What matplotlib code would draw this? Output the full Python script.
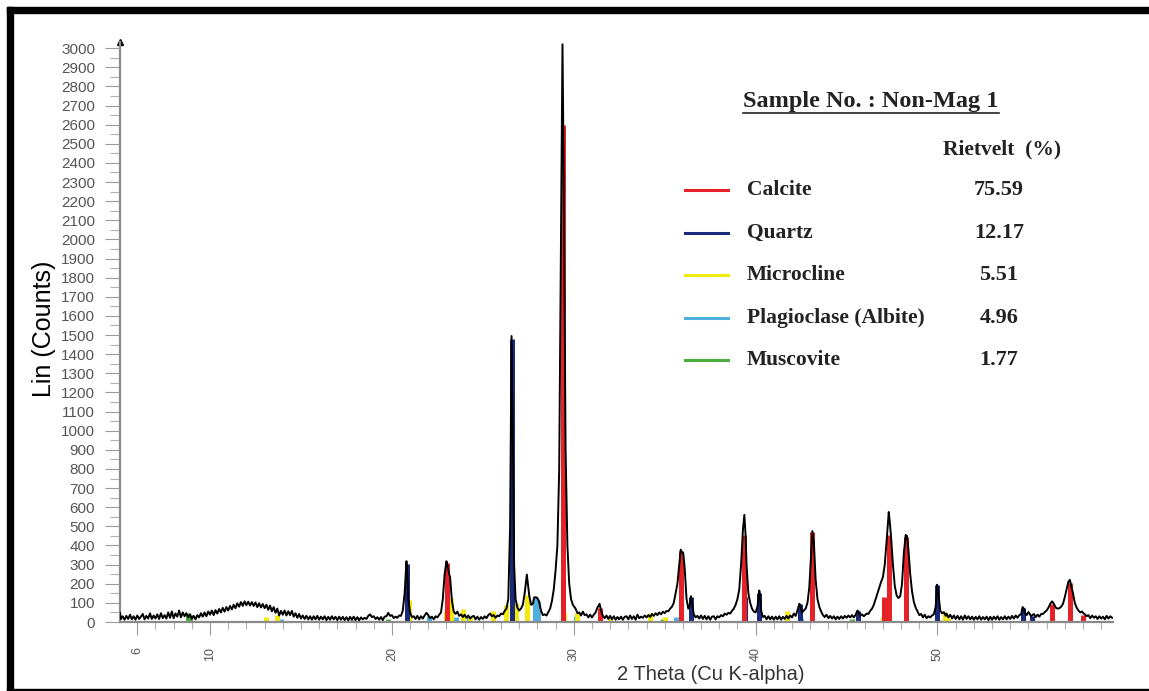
import matplotlib
matplotlib.use("Agg")
import matplotlib.pyplot as plt
from matplotlib.lines import Line2D
from matplotlib.patches import Rectangle
from matplotlib.ticker import MultipleLocator, FixedLocator

# measured pattern: (2theta, counts)
trace = [
    (5.05, 48), (5.1, 15), (5.2, 30), (5.3, 12), (5.4, 32), (5.5, 16), (5.6, 38), (5.7, 14),
    (5.8, 30), (5.9, 12), (6.0, 34), (6.1, 16), (6.2, 28), (6.3, 42), (6.4, 14), (6.5, 32),
    (6.6, 18), (6.7, 45), (6.8, 16), (6.9, 34), (7.0, 18), (7.1, 40), (7.2, 16), (7.3, 46),
    (7.4, 20), (7.5, 36), (7.6, 18), (7.7, 50), (7.8, 22), (7.9, 55), (8.0, 20), (8.1, 45),
    (8.2, 28), (8.3, 60), (8.4, 24), (8.5, 50), (8.6, 30), (8.7, 46), (8.8, 24), (8.9, 40),
    (9.0, 16), (9.1, 32), (9.2, 14), (9.3, 36), (9.4, 24), (9.5, 46), (9.6, 28), (9.7, 50),
    (9.8, 30), (9.9, 55), (10.0, 38), (10.1, 60), (10.2, 36), (10.3, 62), (10.4, 44),
    (10.5, 68), (10.6, 50), (10.7, 74), (10.8, 54), (10.9, 78), (11.0, 60), (11.1, 84),
    (11.2, 66), (11.3, 90), (11.4, 72), (11.5, 98), (11.6, 80), (11.7, 104), (11.8, 84),
    (11.9, 108), (12.0, 88), (12.1, 106), (12.2, 86), (12.3, 104), (12.4, 84), (12.5, 102),
    (12.6, 78), (12.7, 98), (12.8, 76), (12.9, 94), (13.0, 72), (13.1, 90), (13.2, 64),
    (13.3, 86), (13.4, 56), (13.5, 78), (13.6, 48), (13.7, 70), (13.8, 34), (13.9, 58),
    (14.0, 38), (14.1, 60), (14.2, 34), (14.3, 56), (14.4, 36), (14.5, 58), (14.6, 28),
    (14.7, 46), (14.8, 22), (14.9, 42), (15.0, 18), (15.1, 34), (15.2, 16), (15.3, 32),
    (15.4, 14), (15.5, 30), (15.6, 12), (15.7, 30), (15.8, 14), (15.9, 32), (16.0, 12),
    (16.1, 28), (16.2, 14), (16.3, 30), (16.4, 10), (16.5, 27), (16.6, 12), (16.7, 30),
    (16.8, 14), (16.9, 27), (17.0, 10), (17.1, 28), (17.2, 12), (17.3, 27), (17.4, 10),
    (17.5, 25), (17.6, 9), (17.7, 27), (17.8, 12), (17.9, 28), (18.0, 10), (18.1, 25),
    (18.2, 9), (18.3, 24), (18.4, 14), (18.5, 22), (18.6, 16), (18.7, 32), (18.8, 40),
    (18.9, 26), (19.0, 30), (19.1, 16), (19.2, 25), (19.3, 12), (19.4, 26), (19.5, 10),
    (19.6, 28), (19.7, 30), (19.8, 48), (19.9, 32), (20.0, 36), (20.1, 20), (20.2, 28),
    (20.3, 22), (20.4, 34), (20.5, 32), (20.6, 60), (20.7, 150), (20.8, 318), (20.85, 250),
    (20.9, 120), (21.0, 50), (21.1, 26), (21.2, 30), (21.3, 16), (21.4, 32), (21.5, 14),
    (21.6, 30), (21.7, 18), (21.8, 34), (21.9, 48), (22.0, 36), (22.1, 20), (22.2, 28),
    (22.3, 14), (22.4, 30), (22.5, 24), (22.6, 38), (22.7, 50), (22.8, 120), (22.9, 250),
    (23.0, 318), (23.05, 300), (23.15, 250), (23.2, 235), (23.3, 110), (23.4, 55),
    (23.5, 42), (23.6, 54), (23.7, 32), (23.8, 40), (23.9, 26), (24.0, 38), (24.1, 22),
    (24.2, 34), (24.3, 18), (24.4, 28), (24.5, 32), (24.6, 14), (24.7, 28), (24.8, 12),
    (24.9, 26), (25.0, 16), (25.1, 30), (25.2, 20), (25.3, 36), (25.4, 44), (25.5, 30),
    (25.6, 36), (25.7, 22), (25.8, 34), (25.9, 30), (26.0, 44), (26.1, 40), (26.2, 58),
    (26.3, 70), (26.4, 120), (26.5, 500), (26.58, 1495), (26.66, 900), (26.72, 300),
    (26.8, 120), (26.9, 75), (27.0, 60), (27.1, 70), (27.2, 90), (27.3, 150), (27.42, 248),
    (27.48, 200), (27.55, 140), (27.65, 90), (27.75, 95), (27.82, 128), (27.9, 130),
    (28.0, 125), (28.08, 110), (28.2, 60), (28.3, 36), (28.4, 40), (28.5, 34), (28.6, 52),
    (28.7, 70), (28.8, 110), (28.9, 170), (29.0, 270), (29.1, 400), (29.2, 800),
    (29.3, 2000), (29.38, 3020), (29.45, 2300), (29.55, 900), (29.65, 400), (29.75, 200),
    (29.85, 120), (29.95, 90), (30.1, 70), (30.2, 46), (30.3, 50), (30.4, 34), (30.5, 54),
    (30.6, 36), (30.7, 40), (30.8, 24), (30.9, 38), (31.0, 24), (31.1, 38), (31.2, 50),
    (31.3, 75), (31.42, 95), (31.5, 60), (31.6, 32), (31.7, 20), (31.8, 34), (31.9, 16),
    (32.0, 32), (32.1, 14), (32.2, 30), (32.3, 12), (32.4, 26), (32.5, 14), (32.6, 28),
    (32.7, 12), (32.8, 27), (32.9, 30), (33.0, 14), (33.1, 34), (33.2, 16), (33.3, 30),
    (33.4, 12), (33.5, 38), (33.6, 20), (33.7, 28), (33.8, 22), (33.9, 34), (34.0, 24),
    (34.1, 36), (34.2, 26), (34.3, 42), (34.4, 32), (34.5, 46), (34.6, 36), (34.7, 50),
    (34.8, 40), (34.9, 54), (35.0, 46), (35.1, 58), (35.2, 56), (35.3, 70), (35.4, 80),
    (35.5, 100), (35.6, 150), (35.7, 200), (35.8, 300), (35.88, 378), (35.95, 365),
    (36.02, 360), (36.1, 280), (36.2, 120), (36.3, 70), (36.36, 80), (36.45, 135),
    (36.5, 100), (36.6, 40), (36.7, 24), (36.8, 32), (36.9, 18), (37.0, 34), (37.1, 16),
    (37.2, 32), (37.3, 14), (37.4, 30), (37.5, 12), (37.6, 28), (37.7, 30), (37.8, 14),
    (37.9, 30), (38.0, 24), (38.1, 36), (38.2, 30), (38.3, 44), (38.4, 38), (38.5, 48),
    (38.6, 44), (38.7, 58), (38.8, 70), (38.9, 90), (39.0, 120), (39.1, 170), (39.2, 300),
    (39.3, 480), (39.38, 560), (39.45, 450), (39.5, 300), (39.6, 150), (39.7, 100),
    (39.8, 70), (39.9, 55), (40.0, 50), (40.1, 80), (40.2, 165), (40.25, 140), (40.3, 60),
    (40.4, 26), (40.5, 32), (40.6, 14), (40.7, 30), (40.8, 14), (40.9, 28), (41.0, 12),
    (41.1, 28), (41.2, 14), (41.3, 30), (41.4, 12), (41.5, 27), (41.6, 16), (41.7, 32),
    (41.8, 18), (41.9, 34), (42.0, 24), (42.1, 44), (42.2, 32), (42.3, 60), (42.4, 95),
    (42.45, 90), (42.55, 50), (42.65, 60), (42.75, 70), (42.85, 100), (42.95, 180),
    (43.05, 350), (43.12, 475), (43.2, 420), (43.3, 220), (43.4, 120), (43.5, 80),
    (43.6, 55), (43.7, 36), (43.8, 26), (43.9, 38), (44.0, 20), (44.1, 32), (44.2, 18),
    (44.3, 30), (44.4, 14), (44.5, 28), (44.6, 16), (44.7, 30), (44.8, 18), (44.9, 32),
    (45.0, 22), (45.1, 34), (45.2, 24), (45.3, 36), (45.4, 24), (45.5, 38), (45.6, 60),
    (45.65, 55), (45.75, 32), (45.85, 40), (45.95, 30), (46.1, 44), (46.2, 42), (46.3, 58),
    (46.4, 70), (46.5, 90), (46.6, 120), (46.7, 150), (46.8, 180), (46.9, 210),
    (47.0, 235), (47.1, 300), (47.2, 420), (47.32, 575), (47.38, 520), (47.45, 440),
    (47.55, 300), (47.65, 190), (47.75, 140), (47.85, 125), (47.95, 135), (48.05, 200),
    (48.15, 360), (48.25, 455), (48.32, 450), (48.4, 380), (48.5, 250), (48.6, 160),
    (48.7, 105), (48.8, 75), (48.9, 55), (49.0, 36), (49.1, 42), (49.2, 24), (49.3, 38),
    (49.4, 20), (49.5, 30), (49.6, 24), (49.7, 34), (49.8, 40), (49.9, 80), (49.98, 195),
    (50.05, 150), (50.15, 60), (50.25, 45), (50.35, 52), (50.45, 32), (50.5, 44),
    (50.6, 24), (50.7, 38), (50.8, 18), (50.9, 34), (51.0, 16), (51.1, 32), (51.2, 14),
    (51.3, 30), (51.4, 12), (51.5, 34), (51.6, 16), (51.7, 30), (51.8, 14), (51.9, 28),
    (52.0, 12), (52.1, 27), (52.2, 14), (52.3, 30), (52.4, 12), (52.5, 26), (52.6, 14),
    (52.7, 28), (52.8, 10), (52.9, 27), (53.0, 12), (53.1, 28), (53.2, 14), (53.3, 30),
    (53.4, 12), (53.5, 26), (53.6, 14), (53.7, 30), (53.8, 14), (53.9, 28), (54.0, 16),
    (54.1, 32), (54.2, 18), (54.3, 34), (54.4, 22), (54.5, 36), (54.6, 40), (54.68, 78),
    (54.75, 70), (54.8, 50), (54.9, 36), (55.0, 52), (55.05, 45), (55.15, 30), (55.3, 42),
    (55.4, 26), (55.5, 38), (55.6, 28), (55.7, 42), (55.8, 42), (55.9, 52), (56.0, 60),
    (56.1, 75), (56.2, 95), (56.3, 108), (56.4, 95), (56.5, 75), (56.6, 70), (56.7, 72),
    (56.8, 80), (56.9, 95), (57.0, 130), (57.1, 170), (57.2, 212), (57.28, 220),
    (57.35, 190), (57.45, 150), (57.55, 100), (57.65, 75), (57.75, 60), (57.85, 50),
    (57.95, 55), (58.0, 48), (58.1, 40), (58.2, 30), (58.3, 36), (58.4, 20), (58.5, 34),
    (58.6, 22), (58.7, 30), (58.8, 16), (58.9, 30), (59.0, 18), (59.1, 28), (59.2, 14),
    (59.3, 32), (59.4, 18), (59.5, 30), (59.6, 22),
]

# reference stick patterns of the identified phases
calcite_tt = [23.02, 29.40, 31.42, 35.92, 39.38, 43.12, 47.05, 47.33, 48.28, 56.32, 57.27, 58.0]
calcite_h = [310, 2600, 75, 370, 455, 470, 130, 455, 445, 95, 205, 35]
quartz_tt = [20.82, 26.59, 36.45, 39.42, 40.2, 42.42, 45.62, 49.98, 54.68, 55.2]
quartz_h = [305, 1480, 130, 130, 150, 95, 55, 195, 75, 30]
microcline_tt = [13.1, 13.7, 20.95, 22.95, 23.25, 23.9, 24.3, 25.55, 26.3, 26.85,
                 27.45, 29.47, 30.2, 32.0, 34.2, 35.0, 41.7, 47.0, 50.4, 50.6]
microcline_h = [25, 35, 115, 60, 125, 70, 25, 60, 90, 100,
                140, 45, 45, 20, 45, 25, 55, 25, 50, 20]
albite_tt = [13.9, 22.05, 23.55, 24.25, 27.85, 28.02, 30.1, 35.6, 42.5]
albite_h = [15, 30, 25, 25, 130, 110, 30, 25, 20]
muscovite_tt = [8.8, 8.9, 17.8, 19.8, 26.8, 34.9, 45.3, 50.1]
muscovite_h = [45, 35, 12, 18, 20, 15, 15, 12]

phases = ["Calcite", "Quartz", "Microcline", "Plagioclase (Albite)", "Muscovite"]
rietveld = ["75.59", "12.17", "5.51", "4.96", "1.77"]
colors = ["#e52228", "#1b2a78", "#f2ea0a", "#4fb0de", "#4cae3a"]

y_ticks = list(range(0, 3001, 100))
x_ticks = [6, 10, 20, 30, 40, 50]

W, H = 1149, 691
fig = plt.figure(figsize=(W / 100, H / 100), dpi=100)
fig.patch.set_facecolor("white")

def fx(px):
    return px / W

def fy(py):
    return 1 - py / H

ax = fig.add_axes([fx(120), fy(622), fx(1113) - fx(120), fy(42) - fy(622)])
ax.set_xlim(5.05, 59.65)
ax.set_ylim(0, 3032)

# phase sticks
sticks = [(calcite_tt, calcite_h), (quartz_tt, quartz_h), (microcline_tt, microcline_h),
          (albite_tt, albite_h), (muscovite_tt, muscovite_h)]
for (tt, hh), c in zip(sticks[::-1], colors[::-1]):
    ax.vlines(tt, 0, hh, colors=c, lw=3.6, zorder=2)

tt = [p[0] for p in trace]
cc = [p[1] for p in trace]
ax.plot(tt, cc, color="black", lw=1.4, zorder=3)

for s in ["top", "right"]:
    ax.spines[s].set_visible(False)
for s in ["left", "bottom"]:
    ax.spines[s].set_color("#8a8a8a")
    ax.spines[s].set_linewidth(1.6)
ax.plot(0, 1, marker="^", color="black", ms=4, transform=ax.transAxes, clip_on=False)

ax.yaxis.set_major_locator(FixedLocator(y_ticks))
ax.yaxis.set_minor_locator(MultipleLocator(50))
ax.set_yticklabels([str(v) for v in y_ticks])
ax.tick_params(axis="y", which="major", length=11, width=0.8, color="#9a9a9a",
               labelsize=11, labelcolor="#555555", pad=7)
ax.tick_params(axis="y", which="minor", length=7, width=0.8, color="#b0b0b0")

ax.xaxis.set_major_locator(FixedLocator(x_ticks))
ax.xaxis.set_minor_locator(MultipleLocator(1))
ax.set_xticklabels([str(v) for v in x_ticks], rotation=90)
ax.tick_params(axis="x", which="major", length=9, width=0.8, color="#9a9a9a",
               labelsize=9, labelcolor="#555555", pad=9)
ax.tick_params(axis="x", which="minor", length=5, width=0.8, color="#b0b0b0")
for lab in ax.get_yticklabels() + ax.get_xticklabels():
    lab.set_family("Liberation Sans")

fig.text(fx(44), fy(329), "Lin (Counts)", rotation=90, ha="center", va="center",
         fontsize=18, family="Liberation Sans", color="black")
fig.text(fx(711), fy(675), "2 Theta (Cu K-alpha)", ha="center", va="center",
         fontsize=14.5, family="Liberation Sans", color="#333333")

# phase legend with Rietveld fractions
serif = "Liberation Serif"
title = fig.text(fx(871), fy(101), "Sample No. : Non-Mag 1", ha="center", va="center",
                 fontsize=17.5, fontweight="bold", family=serif, color="#222222")
fig.text(fx(1002), fy(149), "Rietvelt  (%)", ha="center", va="center",
         fontsize=15.5, fontweight="bold", family=serif, color="#222222")
rows_y = [190, 233, 275, 318, 360]
for name, val, c, ry in zip(phases, rietveld, colors, rows_y):
    fig.add_artist(Line2D([fx(685), fx(728)], [fy(ry), fy(ry)], color=c, lw=2.2,
                          transform=fig.transFigure))
    fig.text(fx(747), fy(ry), name, ha="left", va="center", fontsize=15.5,
             fontweight="bold", family=serif, color="#222222")
    fig.text(fx(999), fy(ry), val, ha="center", va="center", fontsize=16,
             fontweight="bold", family=serif, color="#222222")

fig.canvas.draw()
bb = title.get_window_extent().transformed(fig.transFigure.inverted())
fig.add_artist(Line2D([bb.x0, bb.x1], [bb.y0 - 0.002, bb.y0 - 0.002], color="#222222",
                      lw=1.2, transform=fig.transFigure))

# frame strokes
fig.add_artist(Rectangle((fx(7), fy(13)), 1 - fx(7), fy(7) - fy(13), color="black",
                         transform=fig.transFigure))
fig.add_artist(Rectangle((fx(7), 0), fx(13) - fx(7), fy(7), color="black",
                         transform=fig.transFigure))
fig.add_artist(Rectangle((fx(7), 0), 1 - fx(7), fy(689), color="black",
                         transform=fig.transFigure))

fig.savefig("out.png", dpi=100)
